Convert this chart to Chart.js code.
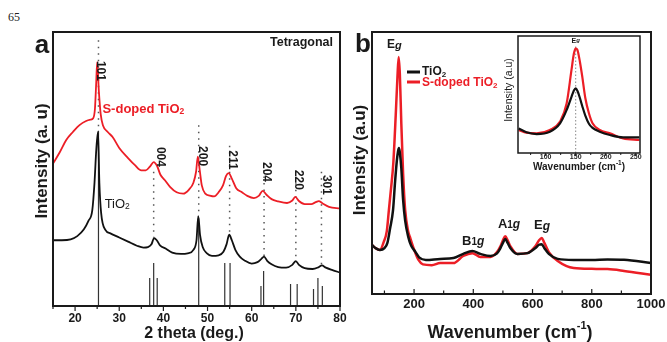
<!DOCTYPE html>
<html>
<head>
<meta charset="utf-8">
<script src="https://cdn.jsdelivr.net/npm/chart.js@4.4.1/dist/chart.umd.min.js"></script>
<style>
  body { margin: 0; background: #fff; }
  #page { position: relative; width: 667px; height: 342px; overflow: hidden; background: #fff; }
  canvas { position: absolute; }
  #pg { position: absolute; left: 8px; top: 10px; font: 12px "Liberation Serif", "DejaVu Serif", serif; color: #222; }
</style>
</head>
<body>
<div id="page">
  <div id="pg">65</div>
  <canvas id="xrd" width="352" height="342" style="left:0;top:0"></canvas>
  <canvas id="raman" width="322" height="342" style="left:345px;top:0"></canvas>
  <canvas id="inset" width="150" height="165" style="left:500px;top:20px"></canvas>
</div>
<script>
Chart.defaults.font.family = '"Liberation Sans", Arial, sans-serif';
Chart.defaults.color = '#1a1a1a';
const RED = 'rgb(236,30,38)';
const BLACK = '#111';

// ---- panel a : XRD (2 theta, arbitrary intensity 0-100) ----
const xrdTicks = [20, 30, 40, 50, 60, 70, 80];
const tio2X = [15,17,19,20.5,22,23,23.9,24.4,24.8,25.2,25.5,25.9,26.9,28,30,32,34,35.5,36.5,37.3,37.9,38.5,39.3,40.5,42,44,45.5,46.8,47.5,47.9,48.3,48.9,49.8,51,52.5,53.6,54.3,54.9,55.5,56.3,57.3,58.5,60,61.3,62.2,62.8,63.5,64.5,66,67.8,69.2,70,70.7,72,73.8,75.2,75.9,76.8,78.3,80];
const tio2Y = [24,24,24.3,25.5,28,31,35,45,57,63.5,45,34,27.7,26.5,25,23.5,22,21.3,21.5,22.5,24.8,24,22,21,19.5,19,19.2,20.5,24,32.8,26,21.5,19.3,18.3,18.5,19.8,22.5,26,24,20.5,18,16.5,15.5,16,17.2,18,16.5,15.2,14.2,14,15,16.4,15,13.8,13.5,14.2,14.8,14,13.1,12.2];
const sdopedX = [15,16.5,18,19.5,21,22.5,23.5,24.1,24.5,24.8,25.0,25.4,25.8,26.3,27.4,28.5,30,32,33.5,35,36,37,37.8,38.6,39.3,40.3,41.5,43,44.5,45.8,46.8,47.4,47.8,48.2,48.7,49.5,50.5,51.5,52.5,53.5,54.2,54.8,55.5,56.5,57.8,59,60.5,61.6,62.5,63.4,64.5,66,68,69.2,69.9,70.7,72,73.5,74.4,75.2,76,77.5,80];
const sdopedY = [52,56,60.6,63.5,66,67.5,68,68.5,72,82,89,78,70,66,63.5,61.7,57.7,54,51.5,49.5,49.5,51,52.5,51,48,46,43.5,41.5,41,42.5,45,49,54.5,50,44,41,40.3,40,41.5,44,47.5,48.5,46.5,43,41.5,40.2,39.4,40.2,42,40.5,39,38.2,37.6,38.5,39.8,38.3,37.2,37.2,37.8,38.3,37.5,36.2,35.6];
// reference pattern sticks
const stickX = [25.3,36.9,37.8,38.6,48.0,53.9,55.1,62.1,62.7,68.8,70.3,74.0,75.0,76.0];
const stickH = [64,10.2,15.7,10.2,32,15.7,15.7,7.3,12.8,8,8,6.2,10.2,7.3];
// dotted guides + hkl labels
const peakX = [25.3,37.8,48.0,55.0,62.8,70.0,75.8];
const peakTop = [97,49,66,58.5,52,49.5,49];
const peakBottom = [64,25,33,26,18,16.4,14.8];
const peakLabels = ['101','004','200','211','204','220','301'];
const labelX = [25.8,39.4,48.9,55.5,63.4,70.5,76.8];
const labelY = [85.8,54.4,54.7,53.3,48.9,46,44.2];

// ---- panel b : Raman ----
const ramanTicks = [200, 400, 600, 800, 1000];
const ramanTiO2X = [58,70,85,100,110,119,129,136,142,146,149,152,157,163,170,180,190,205,217,240,288,333,366,397,424,458,480,492,500,508,516,525,549,583,610,622,631,640,655,685,739,800,853,909,1000];
const ramanTiO2Y = [18.7,17.5,16.8,17.5,19.5,25,32,43,51,54.5,55.7,54,48,36,28,22,18.5,16,14,13,13.4,13.7,15.3,16.4,15.3,14.5,15.5,17.6,19.5,21,19.5,17.6,15.3,15.6,17.6,18.8,19,17.5,15.3,13.4,13,13,13.2,13.1,11.8];
const ramanSX = [58,70,85,98,108,115,122,130,138,144,148,152,157,163,170,180,186,200,215,230,260,288,333,366,397,424,458,480,492,500,508,516,525,549,583,610,622,631,640,655,685,739,800,853,909,1000];
const ramanSY = [18.7,17.5,16.8,20,24,32,40,50,68,83,90.5,84,65,46,32,24,21.8,17,13,11.3,11,11.8,11.8,14.5,15.6,14.1,14.1,16,18.3,20.5,22,20.5,18.3,15.3,15.6,18.3,20.5,21.4,19.5,16,12.6,9.9,9.6,9.5,8.8,7.3];
const modeNames = ['Eg', 'B1g', 'A1g', 'Eg'];
const modeX = [109, 362, 483, 605];
const modeY = [95, 20.2, 26.7, 26];

// ---- inset : Eg region ----
const insetTicks = [100, 150, 200, 250];
const insetX = [55,68,85,107,124,135,143,147,150,153,157,161,166,172,178,190,207,229,256];
const insetTiO2 = [21,17.7,16.2,18.2,25.4,36.8,48,53.5,55.3,53,47,40,32,25,21.5,18.2,15.4,13.4,13.4];
const insetS = [19.7,17.4,16.8,19.7,26.8,42.5,71,85,89.5,88,78,65,47,34,25.5,19.7,16.8,12.5,11.1];

const pts = (xs, ys) => xs.map((x, i) => ({x: x, y: ys[i]}));
function segs(xs, y0, y1) {
    const out = [];
    xs.forEach((x, i) => { out.push({x: x, y: y0[i]}, {x: x, y: y1[i]}, {x: x, y: null}); });
    return out;
}

function drawText(ctx, t, sx, sy) {
    const x = t.x !== undefined ? sx.getPixelForValue(t.x) : t.px;
    const y = t.y !== undefined ? sy.getPixelForValue(t.y) : t.py;
    ctx.save();
    ctx.translate(x, y);
    if (t.rot) ctx.rotate(t.rot * Math.PI / 180);
    ctx.textBaseline = 'middle';
    let w = 0;
    t.parts.forEach(p => { ctx.font = p[1]; w += ctx.measureText(p[0]).width; });
    let cx = t.align === 'center' ? -w / 2 : (t.align === 'right' ? -w : 0);
    t.parts.forEach(p => {
        ctx.font = p[1];
        ctx.fillStyle = p[2] || t.color || '#1a1a1a';
        ctx.fillText(p[0], cx, p[3] || 0);
        cx += ctx.measureText(p[0]).width;
    });
    ctx.restore();
}

function decor(cfg) {
    return {
        id: 'decor',
        afterDraw(chart) {
            const ctx = chart.ctx, a = chart.chartArea;
            const sx = chart.scales.x, sy = chart.scales.y;
            ctx.save();
            ctx.strokeStyle = '#1a1a1a';
            ctx.lineWidth = cfg.tickWidth || 1.2;
            (cfg.ticks || []).forEach(t => {
                const p = sx.getPixelForValue(t[0]);
                ctx.beginPath();
                ctx.moveTo(p, a.bottom);
                ctx.lineTo(p, a.bottom + t[1]);
                ctx.stroke();
            });
            ctx.lineWidth = cfg.frame;
            ctx.strokeRect(a.left, a.top, a.right - a.left, a.bottom - a.top);
            (cfg.keys || []).forEach(k => {
                ctx.strokeStyle = k.color;
                ctx.lineWidth = 3;
                ctx.beginPath();
                ctx.moveTo(k.px1, k.py);
                ctx.lineTo(k.px2, k.py);
                ctx.stroke();
            });
            (cfg.texts || []).forEach(t => drawText(ctx, t, sx, sy));
            ctx.restore();
        }
    };
}

function scales(xmin, xmax, ticks, yWidth, xHeight, font, pad) {
    return {
        x: {
            type: 'linear', min: xmin, max: xmax,
            afterBuildTicks: s => { s.ticks = ticks.map(v => ({value: v})); },
            afterFit: s => { s.height = xHeight; s.paddingLeft = 0; s.paddingRight = 0; },
            grid: { display: false, drawTicks: false },
            border: { display: false },
            ticks: { font: font, color: '#1a1a1a', padding: pad, maxRotation: 0, autoSkip: false,
                     callback: v => String(v) }
        },
        y: {
            min: 0, max: 100,
            afterFit: s => { s.width = yWidth; s.paddingTop = 0; s.paddingBottom = 0; },
            grid: { display: false, drawTicks: false },
            border: { display: false },
            ticks: { display: false }
        }
    };
}

const common = {
    responsive: false,
    animation: false,
    devicePixelRatio: 1,
    plugins: { legend: { display: false }, tooltip: { enabled: false } },
    elements: { point: { radius: 0 } }
};

function sub(main, s, font, subFont, color) {
    return [[main, font, color], [s, subFont, color, 3]];
}
function modeParts(name, size) {
    const parts = [[name[0], 'bold ' + size + 'px "Liberation Sans"']];
    const rest = name.slice(1);
    if (rest.length > 1) parts.push([rest[0], 'bold ' + (size - 3) + 'px "Liberation Sans"', null, 1.5]);
    parts.push(['g', 'italic bold ' + (size - 1) + 'px "Liberation Sans"', null, 0.5]);
    return parts;
}

// ---------- panel a ----------
const xrdMarks = [];
for (let v = 15; v <= 80; v += 5) xrdMarks.push([v, v % 10 === 0 ? 5 : 3]);

const xrdTexts = [
    { px: 42, py: 46, align: 'center', parts: [['a', 'bold 26px "Liberation Sans"']] },
    { px: 333, py: 43, align: 'right', parts: [['Tetragonal', 'bold 12.5px "Liberation Sans"']] },
    { x: 26.2, y: 71.9, parts: sub('S-doped TiO', '2', 'bold 13px "Liberation Sans"', 'bold 8.5px "Liberation Sans"', RED) },
    { x: 26.7, y: 37.2, parts: sub('TiO', '2', '13px "Liberation Sans"', '8.5px "Liberation Sans"') },
    { px: 194, py: 334, align: 'center', parts: [['2 theta (deg.)', 'bold 16px "Liberation Sans"']] },
    { px: 42, py: 161, rot: -90, align: 'center', parts: [['Intensity (a. u)', 'bold 17px "Liberation Sans"']] }
];
peakLabels.forEach((lab, i) => {
    xrdTexts.push({ x: labelX[i], y: labelY[i], rot: 90, align: 'center', parts: [[lab, 'bold 12px "Liberation Sans"']] });
});

new Chart(document.getElementById('xrd'), {
    type: 'line',
    data: {
        datasets: [
            { data: pts(sdopedX, sdopedY), borderColor: RED, borderWidth: 1.8, cubicInterpolationMode: 'monotone' },
            { data: pts(tio2X, tio2Y), borderColor: BLACK, borderWidth: 1.8, cubicInterpolationMode: 'monotone' },
            { data: segs(stickX, stickX.map(() => 0), stickH), borderColor: '#333', borderWidth: 1.2, spanGaps: false },
            { data: segs(peakX, peakTop, peakBottom), borderColor: '#555', borderWidth: 1.5, borderDash: [1.5, 5], spanGaps: false }
        ]
    },
    options: Object.assign({}, common, {
        layout: { padding: { top: 32, right: 12, left: 0, bottom: 0 } },
        scales: scales(15, 80, xrdTicks, 53, 36, { size: 12, weight: 'bold' }, 5)
    }),
    plugins: [decor({ frame: 2, ticks: xrdMarks, texts: xrdTexts })]
});

// ---------- panel b ----------
const ramanMarks = [];
for (let v = 100; v <= 1000; v += 100) ramanMarks.push([v, v % 200 === 0 ? -5 : -3.5]);

const ramanTexts = [
    { px: 18, py: 45, align: 'center', parts: [['b', 'bold 26px "Liberation Sans"']] },
    { px: 15, py: 160, rot: -90, align: 'center', parts: [['Intensity (a.u)', 'bold 17px "Liberation Sans"']] },
    { px: 165, py: 333, align: 'center', parts: [
        ['Wavenumber (cm', 'bold 18px "Liberation Sans"'],
        ['-1', 'bold 11px "Liberation Sans"', null, -7],
        [')', 'bold 18px "Liberation Sans"']] },
    { px: 77, py: 72, parts: sub('TiO', '2', 'bold 12px "Liberation Sans"', 'bold 8px "Liberation Sans"') },
    { px: 77, py: 83, parts: sub('S-doped TiO', '2', 'bold 12px "Liberation Sans"', 'bold 8px "Liberation Sans"', RED) }
];
modeNames.forEach((m, i) => {
    ramanTexts.push({ x: modeX[i], y: modeY[i], parts: modeParts(m, i === 0 ? 12 : 13) });
});

new Chart(document.getElementById('raman'), {
    type: 'line',
    data: {
        datasets: [
            { data: pts(ramanTiO2X, ramanTiO2Y), borderColor: BLACK, borderWidth: 2.5, cubicInterpolationMode: 'monotone' },
            { data: pts(ramanSX, ramanSY), borderColor: RED, borderWidth: 2.5, cubicInterpolationMode: 'monotone' }
        ]
    },
    options: Object.assign({}, common, {
        layout: { padding: { top: 32, right: 16, left: 0, bottom: 0 } },
        scales: scales(58, 1000, ramanTicks, 27, 48, { size: 13, weight: 'bold' }, 3)
    }),
    plugins: [decor({ frame: 2, ticks: ramanMarks, texts: ramanTexts,
        keys: [{ px1: 62, px2: 75, py: 72, color: BLACK }, { px1: 62, px2: 75, py: 82, color: RED }] })]
});

// ---------- inset ----------
const insetMarks = [];
for (let v = 75; v <= 250; v += 25) insetMarks.push([v, v % 50 === 0 ? 3 : 2]);

const insetTexts = [
    { px: 9, py: 70, rot: -90, align: 'center', parts: [['Intensity (a.u)', '10.5px "Liberation Sans"']] },
    { px: 79, py: 147, align: 'center', parts: [
        ['Wavenumber (cm', 'bold 10px "Liberation Sans"'],
        ['-1', 'bold 6.5px "Liberation Sans"', null, -4],
        [')', 'bold 10px "Liberation Sans"']] },
    { x: 150, y: 96, align: 'center', parts: [['E', 'bold 7px "Liberation Sans"'], ['g', 'italic bold 6px "Liberation Sans"']] }
];

new Chart(document.getElementById('inset'), {
    type: 'line',
    data: {
        datasets: [
            { data: pts(insetX, insetTiO2), borderColor: BLACK, borderWidth: 2.2, cubicInterpolationMode: 'monotone' },
            { data: pts(insetX, insetS), borderColor: RED, borderWidth: 2.2, cubicInterpolationMode: 'monotone' },
            { data: [{x: 150, y: 0}, {x: 150, y: 92}], borderColor: '#888', borderWidth: 1, borderDash: [1.5, 2] }
        ]
    },
    options: Object.assign({}, common, {
        layout: { padding: { top: 16, right: 10, left: 0, bottom: 0 } },
        scales: scales(54, 257, insetTicks, 18, 32, { size: 7, weight: 'bold' }, 0)
    }),
    plugins: [decor({ frame: 1.5, tickWidth: 1, ticks: insetMarks, texts: insetTexts })]
});
</script>
</body>
</html>
